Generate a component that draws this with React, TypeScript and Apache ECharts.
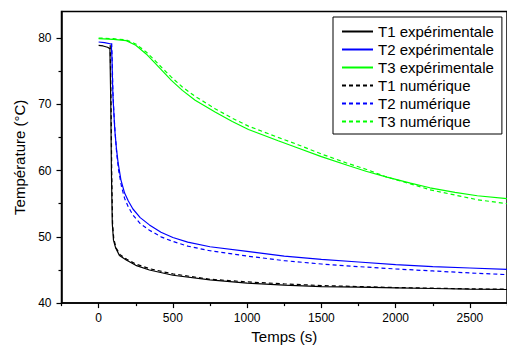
import React, { useEffect, useRef } from "react";
import * as echarts from "echarts";

const seriesNames = [
  "T1 expérimentale",
  "T2 expérimentale",
  "T3 expérimentale",
  "T1 numérique",
  "T2 numérique",
  "T3 numérique",
];

const t1Exp: [number, number][] = [
  [0, 78.9], [30, 78.8], [60, 78.6], [76, 78.4], [82, 70], [86, 60], [92, 52],
  [100, 49.5], [115, 48.3], [140, 47.2], [186, 46.5], [250, 45.7], [342, 45.0],
  [500, 44.2], [750, 43.5], [1000, 43.0], [1250, 42.7], [1500, 42.5], [1750, 42.4],
  [2000, 42.3], [2250, 42.2], [2500, 42.1], [2750, 42.05],
];

const t2Exp: [number, number][] = [
  [0, 79.4], [40, 79.3], [85, 79.1], [90, 77], [94, 73], [97, 71], [103, 68.5],
  [109, 66.1], [120, 63.3], [131, 61.2], [150, 58.6], [175, 56.6], [200, 55.4],
  [231, 54.2], [280, 52.9], [342, 51.8], [420, 50.7], [500, 49.9], [600, 49.2],
  [750, 48.5], [1000, 47.8], [1250, 47.1], [1500, 46.6], [1750, 46.2], [2000, 45.8],
  [2250, 45.5], [2500, 45.3], [2750, 45.1],
];

const t3Exp: [number, number][] = [
  [0, 79.9], [100, 79.8], [186, 79.6], [250, 78.9], [320, 77.6], [380, 76.2],
  [431, 75.0], [490, 73.6], [564, 72.1], [650, 70.6], [787, 68.8], [900, 67.4],
  [1009, 66.2], [1209, 64.5], [1342, 63.4], [1500, 62.1], [1675, 60.8], [1800, 59.9],
  [1942, 59.0], [2100, 58.1], [2231, 57.4], [2400, 56.7], [2550, 56.2], [2750, 55.75],
];

const t1Num: [number, number][] = [
  [78, 78.9], [84, 70], [88, 60], [94, 52], [102, 49.7], [118, 48.3], [145, 47.3],
  [190, 46.6], [250, 45.9], [342, 45.2], [500, 44.4], [750, 43.6], [1000, 43.2],
  [1250, 42.9], [1500, 42.65], [1750, 42.5], [2000, 42.35], [2250, 42.25],
  [2500, 42.15], [2750, 42.1],
];

const t2Num: [number, number][] = [
  [88, 79.2], [92, 76], [96, 72], [100, 70], [106, 67.5], [112, 65.5], [122, 62.5],
  [135, 60], [155, 57.5], [175, 55.8], [200, 54.5], [231, 53.3], [280, 52.0],
  [342, 51.0], [420, 50.0], [500, 49.3], [600, 48.6], [750, 47.9], [1000, 47.1],
  [1250, 46.4], [1500, 45.9], [1750, 45.5], [2000, 45.15], [2250, 44.85],
  [2500, 44.55], [2750, 44.3],
];

const t3Num: [number, number][] = [
  [0, 80.0], [100, 79.9], [186, 79.7], [250, 79.1], [320, 77.9], [380, 76.6],
  [431, 75.4], [490, 74.1], [564, 72.6], [650, 71.2], [787, 69.3], [900, 67.9],
  [1009, 66.7], [1209, 65.0], [1342, 63.9], [1500, 62.5], [1675, 61.1], [1800, 60.2],
  [1942, 59.0], [2100, 58.0], [2231, 57.1], [2400, 56.3], [2550, 55.6], [2750, 55.0],
];

const xMajorTicks = [0, 500, 1000, 1500, 2000, 2500];
const xMinorTicks = [-250, 250, 750, 1250, 1750, 2250, 2750];
const yMajorTicks = [40, 50, 60, 70, 80];
const yMinorTicks = [45, 55, 65, 75];

const FONT = "'Liberation Sans', Arial, Helvetica, sans-serif";

export default function App() {
  const ref = useRef<HTMLDivElement>(null);
  useEffect(() => {
    document.body.style.margin = "0";
    if (!ref.current) return;
    const chart = echarts.init(ref.current, null, { renderer: "svg" });
    const datasets = [t1Exp, t2Exp, t3Exp, t1Num, t2Num, t3Num];
    const colors = ["#000000", "#0000ff", "#00ff00", "#000000", "#0000ff", "#00ff00"];
    const xBase = { type: "value", min: -250, max: 2750, gridIndex: 0 };
    const yBase = { type: "value", min: 40, max: 84, gridIndex: 0 };
    const plain = (v: number) => String(v);
    chart.setOption({
      animation: false,
      textStyle: { fontFamily: FONT },
      grid: {
        left: 61.5,
        right: -3,
        top: 11.5,
        bottom: 38.5,
        show: true,
        borderColor: "#000",
        borderWidth: 1.5,
        backgroundColor: "transparent",
      },
      legend: {
        orient: "vertical",
        left: 333,
        top: 17,
        data: seriesNames,
        itemWidth: 31,
        itemHeight: 14,
        itemGap: 3,
        padding: [7, 8, 5, 8],
        borderColor: "#000",
        borderWidth: 1,
        backgroundColor: "#fff",
        itemStyle: { color: "transparent", borderWidth: 0, opacity: 0 },
        textStyle: { fontFamily: FONT, fontSize: 15, color: "#000", lineHeight: 15 },
      },
      xAxis: [
        {
          ...xBase,
          position: "bottom",
          name: "Temps (s)",
          nameLocation: "middle",
          nameGap: 21,
          nameTextStyle: { fontFamily: FONT, fontSize: 15, color: "#000" },
          axisLine: { show: true, onZero: false, lineStyle: { color: "#000", width: 1.5 } },
          axisTick: {
            show: true,
            length: 5,
            lineStyle: { color: "#000", width: 1.2 },
            customValues: xMajorTicks,
          },
          axisLabel: {
            customValues: xMajorTicks,
            formatter: plain,
            fontFamily: FONT,
            fontSize: 12,
            color: "#000",
            margin: 9,
          },
          splitLine: { show: false },
        },
        {
          ...xBase,
          position: "bottom",
          axisLine: { show: false, onZero: false },
          axisTick: {
            show: true,
            length: 3,
            lineStyle: { color: "#000", width: 1.2 },
            customValues: xMinorTicks,
          },
          axisLabel: { show: false },
          splitLine: { show: false },
        },
      ],
      yAxis: [
        {
          ...yBase,
          position: "left",
          name: "Température (°C)",
          nameLocation: "middle",
          nameGap: 33,
          nameRotate: 90,
          nameTextStyle: { fontFamily: FONT, fontSize: 15, color: "#000" },
          axisLine: { show: true, onZero: false, lineStyle: { color: "#000", width: 1.5 } },
          axisTick: {
            show: true,
            length: 5,
            lineStyle: { color: "#000", width: 1.2 },
            customValues: yMajorTicks,
          },
          axisLabel: {
            customValues: yMajorTicks,
            formatter: plain,
            fontFamily: FONT,
            fontSize: 12,
            color: "#000",
            margin: 10,
          },
          splitLine: { show: false },
        },
        {
          ...yBase,
          position: "left",
          axisLine: { show: false, onZero: false },
          axisTick: {
            show: true,
            length: 3,
            lineStyle: { color: "#000", width: 1.2 },
            customValues: yMinorTicks,
          },
          axisLabel: { show: false },
          splitLine: { show: false },
        },
      ],
      series: datasets.map((d, i) => ({
        name: seriesNames[i],
        type: "line",
        xAxisIndex: 0,
        yAxisIndex: 0,
        data: d,
        symbol: "none",
        showSymbol: false,
        smooth: false,
        color: colors[i],
        lineStyle: {
          color: colors[i],
          width: 1.2,
          type: i >= 3 ? [4, 3] : "solid",
        },
        z: i >= 3 ? 3 : 2,
      })),
    });
    return () => chart.dispose();
  }, []);
  return <div ref={ref} style={{ width: 507, height: 349 }} />;
}
